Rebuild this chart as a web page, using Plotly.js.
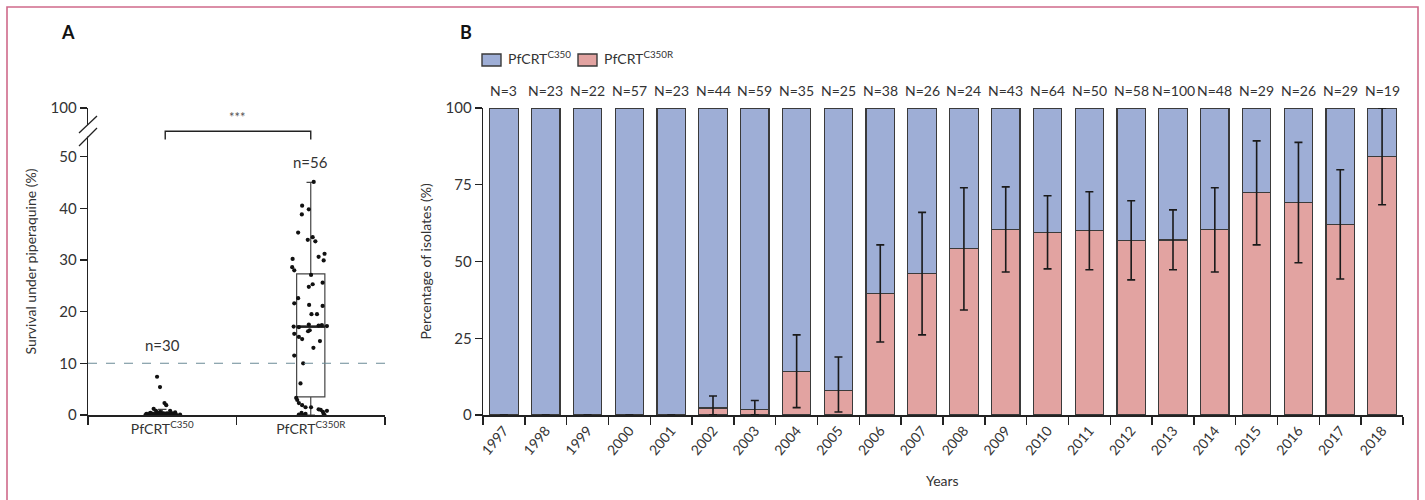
<!DOCTYPE html>
<html>
<head>
<meta charset="utf-8">
<script src="https://cdn.plot.ly/plotly-3.0.1.min.js"></script>
<style>html,body{margin:0;padding:0;background:#fff;} #chart{width:1425px;height:500px;}</style>
</head>
<body>
<div id="chart"></div>
<script>
// ---------- Panel A data ----------
const groupLabels = ['PfCRT<sup>C350</sup>', 'PfCRT<sup>C350R</sup>'];
const groupN = [30, 56];
const c350Survival = [7.4,5.4,2.3,1.9,1.2,0.8,0.8,0.6,0.5,0.4,0.4,0.3,0.3,0.3,0.2,0.2,0.2,0.2,0.2,0.1,0.1,0.1,0.1,0.1,0.05,0.05,0.05,0,0,0];
const c350Jitter = [-0.035,-0.015,0.015,0.027,-0.058,-0.042,0.053,-0.013,0.087,-0.08,-0.027,0.007,0.033,0.067,-0.107,-0.067,-0.04,-0.007,0.02,0.047,0.093,0.12,-0.093,-0.053,-0.027,0.007,0.04,-0.113,0.06,-0.013];
const c350rSurvival = [45.1,40.5,39.8,38.8,35.3,33.9,34.4,33.6,30.2,30.6,31.2,29.9,28.6,28.0,27.1,24.8,25.3,25.6,22.6,21.6,21.3,19.5,19.5,21.1,17.1,17.0,17.5,17.3,17.4,17.2,15.7,15.1,14.7,16.2,16.4,14.3,13.0,11.5,10.0,6.1,3.3,2.9,2.3,1.9,1.5,1.5,1.1,1.0,0.8,0.6,0.4,0.1,0.2,0.2,0.0,0.0];
const c350rJitter = [0.02,-0.058,-0.013,-0.06,-0.085,-0.02,0.013,0.031,-0.122,0.053,0.093,0.087,-0.125,-0.111,0.002,-0.013,0.013,0.08,-0.085,-0.111,-0.011,0.005,0.042,0.08,-0.115,-0.08,-0.013,0.053,0.075,0.109,-0.111,-0.08,-0.058,-0.018,-0.007,0.062,0.018,-0.111,-0.051,-0.069,-0.098,-0.091,-0.08,-0.058,-0.035,0.002,0.053,0.067,0.109,0.082,-0.062,-0.08,-0.035,0.087,0.093,-0.051];
const boxQ1 = [0.05, 3.5];
const boxMedian = [0.2, 17.1];
const boxQ3 = [0.5, 27.3];
const boxLowerFence = [0, 0];
const boxUpperFence = [1.1, 45];
const yTicksA = [0, 10, 20, 30, 40, 50];
const thresholdA = 10;

// ---------- Panel B data ----------
const seriesNames = ['PfCRT<sup>C350</sup>', 'PfCRT<sup>C350R</sup>'];
const years = ['1997','1998','1999','2000','2001','2002','2003','2004','2005','2006','2007','2008','2009','2010','2011','2012','2013','2014','2015','2016','2017','2018'];
const sampleN = [3,23,22,57,23,44,59,35,25,38,26,24,43,64,50,58,100,48,29,26,29,19];
const pctC350R = [0,0,0,0,0,2.3,1.7,14.3,8.0,39.5,46.2,54.2,60.5,59.4,60.0,56.9,57.0,60.4,72.4,69.2,62.1,84.2];
const ciLower = [0,0,0,0,0,0.06,0.04,2.4,1.0,23.8,26.1,34.2,46.6,47.6,47.3,44.0,47.3,46.6,55.4,49.6,44.3,68.5];
const ciUpper = [0,0,0,0,0,6.2,4.7,26.1,18.9,55.4,66.0,74.0,74.3,71.4,72.7,69.8,66.8,74.0,89.3,88.8,79.9,100];
const yTicksB = [0, 25, 50, 75, 100];

const pctC350 = pctC350R.map(v => 100 - v);

// ---------- style ----------
const FONT = 'Lato, "Open Sans", sans-serif';
const TXT = '#333333';
const AX = '#222222';
const BLUE = '#9eaed6';
const PINK = '#e2a3a1';
const OUT = '#3a3a3a';

const W = 1425, H = 500;
const px = v => v / W;
const py = v => (H - v) / H;

const topA = 59.4;

const traces = [];

traces.push({
  type: 'box', x: [0, 1], q1: boxQ1, median: boxMedian, q3: boxQ3,
  lowerfence: boxLowerFence, upperfence: boxUpperFence,
  width: 0.19, whiskerwidth: 0.3, boxpoints: false,
  fillcolor: 'rgba(0,0,0,0)', line: {color: '#444', width: 1.2},
  xaxis: 'x', yaxis: 'y', showlegend: false, hoverinfo: 'skip'
});
boxMedian.forEach((m, i) => {
  traces.push({
    type: 'scatter', mode: 'lines', x: [i - 0.095, i + 0.095], y: [m, m],
    line: {color: '#222', width: 2.6}, xaxis: 'x', yaxis: 'y', showlegend: false, hoverinfo: 'skip'
  });
});
traces.push({
  type: 'scatter', mode: 'markers', x: c350Jitter.map(d => 0 + d), y: c350Survival,
  marker: {color: '#111', size: 4.2}, xaxis: 'x', yaxis: 'y', showlegend: false, cliponaxis: false
});
traces.push({
  type: 'scatter', mode: 'markers', x: c350rJitter.map(d => 1 + d), y: c350rSurvival,
  marker: {color: '#111', size: 4.2}, xaxis: 'x', yaxis: 'y', showlegend: false, cliponaxis: false
});
traces.push({
  type: 'scatter', mode: 'lines', x: [-0.5, 1.5], y: [thresholdA, thresholdA],
  line: {color: '#6b8a96', width: 1.1, dash: 'dash'}, xaxis: 'x', yaxis: 'y', showlegend: false, hoverinfo: 'skip'
});

traces.push({
  type: 'bar', x: years, y: pctC350R, name: seriesNames[1],
  marker: {color: PINK, line: {color: OUT, width: 1.2}}, width: 0.68,
  xaxis: 'x2', yaxis: 'y2', showlegend: false
});
traces.push({
  type: 'bar', x: years, y: pctC350, name: seriesNames[0],
  marker: {color: BLUE, line: {color: OUT, width: 1.2}}, width: 0.68,
  xaxis: 'x2', yaxis: 'y2', showlegend: false
});
traces.push({
  type: 'scatter', mode: 'markers', x: years, y: pctC350R,
  marker: {size: 1, color: 'rgba(0,0,0,0)'},
  error_y: {type: 'data', symmetric: false,
    array: ciUpper.map((u, i) => u - pctC350R[i]),
    arrayminus: pctC350R.map((v, i) => v - ciLower[i]),
    color: '#1a1a1a', thickness: 1.6, width: 4},
  xaxis: 'x2', yaxis: 'y2', showlegend: false, hoverinfo: 'skip', cliponaxis: false
});

const annotations = [];
const note = (o) => annotations.push(Object.assign({showarrow: false, xanchor: 'center', yanchor: 'middle'}, o));
note({xref: 'paper', yref: 'paper', x: px(68), y: py(32), text: '<b>A</b>', font: {family: FONT, size: 18, color: '#111'}});
note({xref: 'paper', yref: 'paper', x: px(466), y: py(32), text: '<b>B</b>', font: {family: FONT, size: 18, color: '#111'}});
note({xref: 'paper', yref: 'paper', x: px(30), y: py(261.5), text: 'Survival under piperaquine (%)', textangle: -90, font: {family: FONT, size: 14, color: TXT}});
note({xref: 'paper', yref: 'paper', x: px(425), y: py(261.5), text: 'Percentage of isolates (%)', textangle: -90, font: {family: FONT, size: 14, color: TXT}});
note({xref: 'paper', yref: 'paper', x: px(942), y: py(480), text: 'Years', font: {family: FONT, size: 14, color: TXT}});
note({xref: 'x', yref: 'y', x: 0, y: 13.5, text: 'n=' + groupN[0], font: {family: FONT, size: 15, color: TXT}});
note({xref: 'x', yref: 'y', x: 1, y: 49, text: 'n=' + groupN[1], font: {family: FONT, size: 15, color: TXT}});
note({xref: 'x', yref: 'y', x: 0.51, y: 57.6, text: '***', font: {family: FONT, size: 13, color: '#555'}});
years.forEach((yr, i) => {
  note({xref: 'x2', yref: 'paper', x: i, y: py(90), text: 'N=' + sampleN[i], font: {family: FONT, size: 14, color: TXT}});
});
// custom legend text
note({xref: 'paper', yref: 'paper', x: px(506), y: py(58), xanchor: 'left', text: seriesNames[0], font: {family: FONT, size: 14, color: TXT}});
note({xref: 'paper', yref: 'paper', x: px(602), y: py(58), xanchor: 'left', text: seriesNames[1], font: {family: FONT, size: 14, color: TXT}});

const shapes = [
  {type: 'rect', xref: 'paper', yref: 'paper', x0: px(7), x1: px(1418), y0: -0.2, y1: py(7), line: {color: '#cf6a8a', width: 1.6}, fillcolor: 'rgba(0,0,0,0)'},
  {type: 'line', xref: 'paper', yref: 'paper', x0: px(88), x1: px(88), y0: py(136.5), y1: py(125), line: {color: '#fff', width: 5}},
  {type: 'line', xref: 'paper', yref: 'paper', x0: px(79), x1: px(97), y0: py(133), y1: py(116), line: {color: AX, width: 1.3}},
  {type: 'line', xref: 'paper', yref: 'paper', x0: px(79), x1: px(97), y0: py(146), y1: py(128), line: {color: AX, width: 1.3}},
  {type: 'path', xref: 'x', yref: 'y', path: 'M 0.02 53.3 L 0.02 54.9 L 1.0 54.9 L 1.0 53.3', line: {color: AX, width: 1.4}},
  {type: 'rect', xref: 'paper', yref: 'paper', x0: px(482), x1: px(501), y0: py(66), y1: py(54), fillcolor: BLUE, line: {color: OUT, width: 1.4}},
  {type: 'rect', xref: 'paper', yref: 'paper', x0: px(578), x1: px(597), y0: py(66), y1: py(54), fillcolor: PINK, line: {color: OUT, width: 1.4}}
];

const layout = {
  width: W, height: H,
  margin: {l: 0, r: 0, t: 0, b: 0},
  paper_bgcolor: '#fff', plot_bgcolor: 'rgba(0,0,0,0)',
  font: {family: FONT, size: 14, color: TXT},
  barmode: 'stack',
  showlegend: false,
  xaxis: {
    domain: [px(88), px(385)], range: [-0.5, 1.5], anchor: 'y',
    tickvals: [0, 1], ticktext: groupLabels, ticks: '',
    minor: {tickvals: [-0.5, 0.5, 1.5], ticks: 'outside', ticklen: 8, tickwidth: 1.4, tickcolor: AX},
    showline: true, linecolor: AX, linewidth: 2.2, showgrid: false, zeroline: false,
    tickfont: {family: FONT, size: 14, color: TXT}
  },
  yaxis: {
    domain: [py(415), py(108)], range: [0, topA], anchor: 'x',
    tickvals: yTicksA.concat([topA]), ticktext: yTicksA.map(String).concat(['100']),
    ticks: 'outside', ticklen: 7, tickwidth: 1.4, tickcolor: AX,
    showline: true, linecolor: AX, linewidth: 1.4, showgrid: false, zeroline: false,
    tickfont: {family: FONT, size: 15, color: TXT}
  },
  xaxis2: {
    domain: [px(483), px(1403)], anchor: 'y2', type: 'category', range: [-0.5, 21.5],
    tickson: 'boundaries', ticks: 'outside', ticklen: 8, tickwidth: 1.4, tickcolor: AX,
    tickangle: -50, showline: true, linecolor: AX, linewidth: 2, showgrid: false, zeroline: false,
    tickfont: {family: FONT, size: 14, color: TXT}
  },
  yaxis2: {
    domain: [py(415), py(108)], anchor: 'x2', range: [0, 100],
    tickvals: yTicksB, ticks: 'outside', ticklen: 7, tickwidth: 1.4, tickcolor: AX,
    showline: true, linecolor: AX, linewidth: 1.4, showgrid: false, zeroline: false,
    tickfont: {family: FONT, size: 15, color: TXT}
  },
  annotations: annotations,
  shapes: shapes
};

Plotly.newPlot('chart', traces, layout, {displayModeBar: false, staticPlot: true});
</script>
</body>
</html>
